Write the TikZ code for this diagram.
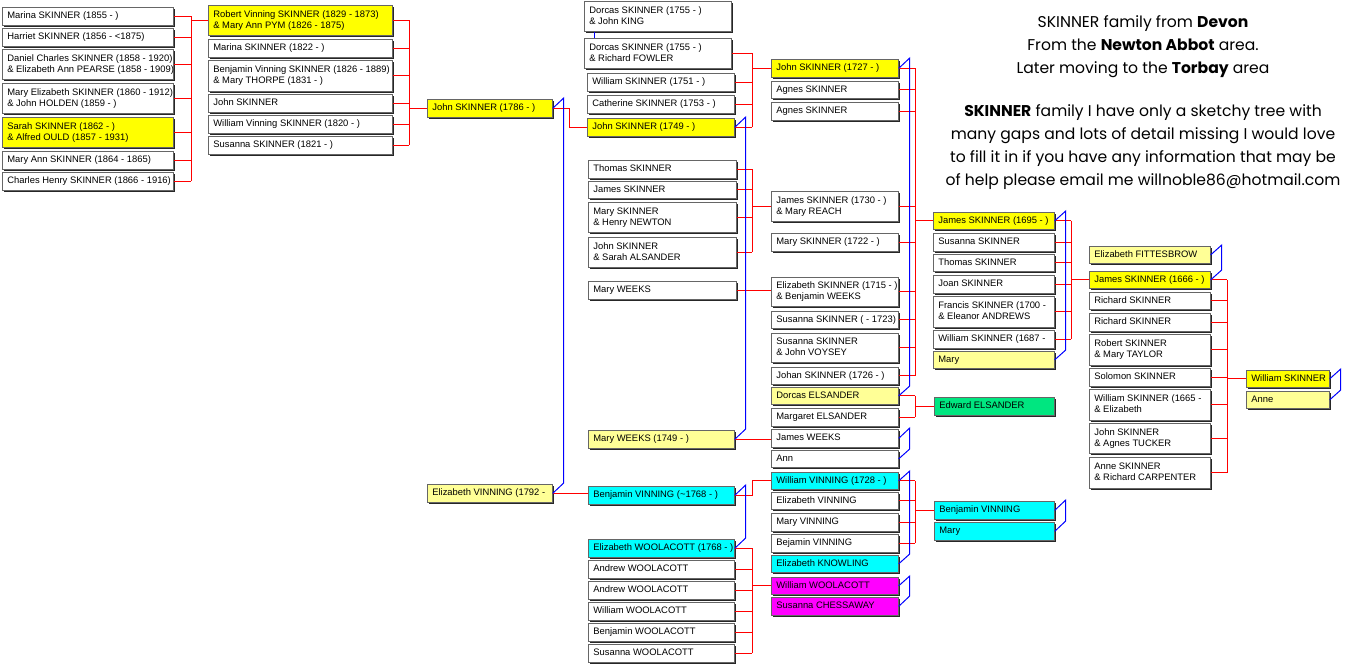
\documentclass[tikz,border=0pt]{standalone}
\usepackage{fontspec}
\setmainfont{Liberation Sans}
\newfontfamily\titlefont{Poppins}
\usetikzlibrary{calc,shadows}
\definecolor{yel}{RGB}{255,255,0}
\definecolor{lyel}{RGB}{255,255,150}
\definecolor{cyn}{RGB}{0,255,255}
\definecolor{mag}{RGB}{255,0,255}
\definecolor{grn}{RGB}{0,230,128}
\tikzset{
  pbox/.style={rectangle, draw=black!60, line width=0.7pt, inner xsep=5pt, inner ysep=1pt,
    anchor=north west, font=\fontsize{9.4}{11}\selectfont,
    drop shadow={shadow xshift=1.4pt, shadow yshift=-1.4pt, fill=black!85, opacity=1}},
  rl/.style={draw=red, line width=0.9pt},
  bl/.style={draw=blue, line width=1pt},
}
\newcommand\pb[7]{%
  \pgfmathsetmacro\tw{#4-10}%
  \node[pbox, fill=#6, minimum width=#4pt, minimum height=#5pt] (#1) at (#2,#3)
    {\makebox[\tw pt][l]{\begin{tabular}{@{}l@{}}#7\end{tabular}}};}
\newcommand\spouse[2]{\draw[bl] (#1.east) -- ($(#1.north east)+(11,-1)$) -- ($(#2.north east)+(11,-1)$) -- (#2.east);}
\begin{document}
\begin{tikzpicture}[x=1pt,y=-1pt]
\useasboundingbox (0,0) rectangle (1346,667);
% ---------- column 1
\pb{a1}{2}{7}{171}{18}{white}{Marina SKINNER (1855 - )}
\pb{a2}{2}{28}{171}{18}{white}{Harriet SKINNER (1856 - <1875)}
\pb{a3}{2}{49}{171}{30}{white}{Daniel Charles SKINNER (1858 - 1920)\\\& Elizabeth Ann PEARSE (1858 - 1909)}
\pb{a4}{2}{83}{171}{30}{white}{Mary Elizabeth SKINNER (1860 - 1912)\\\& John HOLDEN (1859 - )}
\pb{a5}{2}{117}{171}{30}{yel}{Sarah SKINNER (1862 - )\\\& Alfred OULD (1857 - 1931)}
\pb{a6}{2}{151}{171}{18}{white}{Mary Ann SKINNER (1864 - 1865)}
\pb{a7}{2}{172}{171}{18}{white}{Charles Henry SKINNER (1866 - 1916)}
% ---------- column 2
\pb{b1}{208}{5}{184}{30}{yel}{Robert Vinning SKINNER (1829 - 1873)\\\& Mary Ann PYM (1826 - 1875)}
\pb{b2}{208}{39}{184}{18}{white}{Marina SKINNER (1822 - )}
\pb{b3}{208}{60}{184}{31}{white}{Benjamin Vinning SKINNER (1826 - 1889)\\\& Mary THORPE (1831 - )}
\pb{b4}{208}{94}{184}{18}{white}{John SKINNER}
\pb{b5}{208}{115}{184}{18}{white}{William Vinning SKINNER (1820 - )}
\pb{b6}{208}{136}{184}{18}{white}{Susanna SKINNER (1821 - )}
% ---------- column 2b
\pb{jn86}{427}{99}{125}{18}{yel}{John SKINNER (1786 - )}
\pb{ev92}{427}{484}{125}{18}{lyel}{Elizabeth VINNING (1792 -}
% ---------- column 3
\pb{c1}{584}{1}{147}{30}{white}{Dorcas SKINNER (1755 - )\\\& John KING}
\pb{c2}{584}{38}{147}{30}{white}{Dorcas SKINNER (1755 - )\\\& Richard FOWLER}
\pb{c3}{587}{73}{147}{18}{white}{William SKINNER (1751 - )}
\pb{c4}{587}{95}{147}{18}{white}{Catherine SKINNER (1753 - )}
\pb{c5}{587}{118}{147}{18}{yel}{John SKINNER (1749 - )}
\pb{c6}{588}{160}{148}{18}{white}{Thomas SKINNER}
\pb{c7}{588}{181}{148}{17}{white}{James SKINNER}
\pb{c8}{588}{202}{148}{30}{white}{Mary SKINNER\\\& Henry NEWTON}
\pb{c9}{588}{237}{148}{30}{white}{John SKINNER\\\& Sarah ALSANDER}
\pb{c10}{588}{281}{148}{18}{white}{Mary WEEKS}
\pb{c11}{588}{430}{146}{18}{lyel}{Mary WEEKS (1749 - )}
\pb{c12}{588}{486}{146}{18}{cyn}{Benjamin VINNING (\textasciitilde1768 - )}
\pb{c13}{588}{539}{146}{18}{cyn}{Elizabeth WOOLACOTT (1768 - )}
\pb{c14}{588}{560}{146}{18}{white}{Andrew WOOLACOTT}
\pb{c15}{588}{581}{146}{18}{white}{Andrew WOOLACOTT}
\pb{c16}{588}{602}{146}{18}{white}{William WOOLACOTT}
\pb{c17}{588}{623}{146}{18}{white}{Benjamin WOOLACOTT}
\pb{c18}{588}{644}{146}{18}{white}{Susanna WOOLACOTT}
% ---------- column 4
\pb{d1}{771}{59}{127}{18}{yel}{John SKINNER (1727 - )}
\pb{d2}{771}{81}{127}{17}{white}{Agnes SKINNER}
\pb{d3}{771}{102}{127}{18}{white}{Agnes SKINNER}
\pb{d4}{771}{191}{127}{30}{white}{James SKINNER (1730 - )\\\& Mary REACH}
\pb{d5}{771}{233}{127}{18}{white}{Mary SKINNER (1722 - )}
\pb{d6}{771}{277}{127}{29}{white}{Elizabeth SKINNER (1715 - )\\\& Benjamin WEEKS}
\pb{d7}{771}{311}{127}{17}{white}{Susanna SKINNER ( - 1723)}
\pb{d8}{771}{333}{127}{29}{white}{Susanna SKINNER\\\& John VOYSEY}
\pb{d9}{771}{367}{127}{17}{white}{Johan SKINNER (1726 - )}
\pb{d10}{771}{387}{127}{17}{lyel}{Dorcas ELSANDER}
\pb{d11}{771}{408}{127}{18}{white}{Margaret ELSANDER}
\pb{d12}{771}{429}{127}{18}{white}{James WEEKS}
\pb{d13}{771}{450}{127}{17}{white}{Ann}
\pb{d14}{771}{472}{127}{17}{cyn}{William VINNING (1728 - )}
\pb{d15}{771}{492}{127}{17}{white}{Elizabeth VINNING}
\pb{d16}{771}{513}{127}{18}{white}{Mary VINNING}
\pb{d17}{771}{534}{127}{18}{white}{Bejamin VINNING}
\pb{d18}{771}{555}{127}{17}{cyn}{Elizabeth KNOWLING}
\pb{d19}{771}{577}{127}{17}{mag}{William WOOLACOTT}
\pb{d20}{771}{597}{127}{18}{mag}{Susanna CHESSAWAY}
% ---------- column 5
\pb{e1}{933}{212}{121}{17}{yel}{James SKINNER (1695 - )}
\pb{e2}{933}{233}{121}{18}{white}{Susanna SKINNER}
\pb{e3}{933}{254}{121}{17}{white}{Thomas SKINNER}
\pb{e4}{933}{275}{121}{18}{white}{Joan SKINNER}
\pb{e5}{933}{296}{121}{31}{white}{Francis SKINNER (1700 -\\\& Eleanor ANDREWS}
\pb{e6}{933}{330}{121}{18}{white}{William SKINNER (1687 -}
\pb{e7}{933}{351}{121}{17}{lyel}{Mary}
\pb{e8}{934}{397}{120}{18}{grn}{Edward ELSANDER}
\pb{e9}{934}{501}{120}{18}{cyn}{Benjamin VINNING}
\pb{e10}{934}{522}{120}{18}{cyn}{Mary}
% ---------- column 6
\pb{f1}{1089}{246}{121}{17}{lyel}{Elizabeth FITTESBROW}
\pb{f2}{1089}{271}{121}{17}{yel}{James SKINNER (1666 - )}
\pb{f3}{1089}{292}{121}{17}{white}{Richard SKINNER}
\pb{f4}{1089}{313}{121}{18}{white}{Richard SKINNER}
\pb{f5}{1089}{334}{121}{31}{white}{Robert SKINNER\\\& Mary TAYLOR}
\pb{f6}{1089}{368}{121}{18}{white}{Solomon SKINNER}
\pb{f7}{1089}{389}{121}{31}{white}{William SKINNER (1665 -\\\& Elizabeth}
\pb{f8}{1089}{423}{121}{30}{white}{John SKINNER\\\& Agnes TUCKER}
\pb{f9}{1089}{457}{121}{31}{white}{Anne SKINNER\\\& Richard CARPENTER}
% ---------- column 7
\pb{g1}{1246}{370}{83}{17}{yel}{William SKINNER}
\pb{g2}{1246}{391}{83}{17}{lyel}{Anne}
% ---------- bus coordinates
\coordinate (B1) at (191,0);
\coordinate (B2) at (409,0);
\coordinate (B3) at (752,0);
\coordinate (B4) at (915,0);
\coordinate (B5) at (1071,0);
\coordinate (B6) at (1227,0);
% col 1 -> Robert
\foreach \n in {a1,a2,a3,a4,a5,a6,a7} \draw[rl] (\n.east) -- (\n.east -| B1);
\draw[rl] (a1.east -| B1) -- (a7.east -| B1);
\draw[rl] (b1.west) -- (b1.west -| B1);
% col 2 -> John 1786
\foreach \n in {b1,b2,b3,b4,b5,b6} \draw[rl] (\n.east) -- (\n.east -| B2);
\draw[rl] (b1.east -| B2) -- (b6.east -| B2);
\draw[rl] (jn86.west) -- (jn86.west -| B2);
% John 1786 -> John 1749 ; Elizabeth VINNING -> Benjamin
\draw[rl] (jn86.east) -- ++(17,0) |- (c5.west);
\draw[rl] (ev92.east) -- (ev92.east -| c12.west);
\spouse{jn86}{ev92}
% col 3 groups
\foreach \n in {c2,c3,c4,c5} \draw[rl] (\n.east) -- (\n.east -| B3);
\draw[rl] (c2.east -| B3) -- (c5.east -| B3);
\draw[rl] (d1.west) -- (d1.west -| B3);
\foreach \n in {c6,c7,c8,c9} \draw[rl] (\n.east) -- (\n.east -| B3);
\draw[rl] (c6.east -| B3) -- (c9.east -| B3);
\draw[rl] (d4.west) -- (d4.west -| B3);
\draw[rl] (c10.east) -- (c10.east -| d6.west);
\draw[rl] (c11.east) -- (c11.east -| d12.west);
\draw[rl] (c12.east) -- ++(18,0) |- (d14.west);
\foreach \n in {c13,c14,c15,c16,c17,c18} \draw[rl] (\n.east) -- (\n.east -| B3);
\draw[rl] (c13.east -| B3) -- (c18.east -| B3);
\draw[rl] (d19.west) -- (d19.west -| B3);
\draw[bl] ($(c1.south west)+(10,0)$) -- ($(c2.north west)+(10,0)$);
\spouse{c5}{c11}
\spouse{c12}{c13}
% col 4 groups
\foreach \n in {d1,d2,d3,d4,d5,d6,d7,d8,d9} \draw[rl] (\n.east) -- (\n.east -| B4);
\draw[rl] (d1.east -| B4) -- (d9.east -| B4);
\draw[rl] (e1.west) -- (e1.west -| B4);
\foreach \n in {d10,d11} \draw[rl] (\n.east) -- (\n.east -| B4);
\draw[rl] (d10.east -| B4) -- (d11.east -| B4);
\draw[rl] (e8.west) -- (e8.west -| B4);
\foreach \n in {d14,d15,d16,d17} \draw[rl] (\n.east) -- (\n.east -| B4);
\draw[rl] (d14.east -| B4) -- (d17.east -| B4);
\draw[rl] (e9.west) -- (e9.west -| B4);
\spouse{d1}{d10}
\spouse{d12}{d13}
\spouse{d14}{d18}
\spouse{d19}{d20}
% col 5 groups
\foreach \n in {e1,e2,e3,e4,e5,e6} \draw[rl] (\n.east) -- (\n.east -| B5);
\draw[rl] (e1.east -| B5) -- (e6.east -| B5);
\draw[rl] (f2.west) -- (f2.west -| B5);
\spouse{e1}{e7}
\spouse{e9}{e10}
% col 6 group
\foreach \n in {f2,f3,f4,f5,f6,f7,f8,f9} \draw[rl] (\n.east) -- (\n.east -| B6);
\draw[rl] (f2.east -| B6) -- (f9.east -| B6);
\draw[rl] (g1.west) -- (g1.west -| B6);
\spouse{f1}{f2}
\spouse{g1}{g2}
% ---------- title text
\node[font=\titlefont\fontsize{15.6}{23}\selectfont, align=center] (title) at (1143,103)
 {SKINNER family from \textbf{Devon}\\
  From the \textbf{Newton Abbot} area.\\
  Later moving to the \textbf{Torbay} area\\[20pt]
  \textbf{SKINNER} family I have only a sketchy tree with\\
  many gaps and lots of detail missing I would love\\
  to fill it in if you have any information that may be\\
  of help please email me willnoble86@hotmail.com};
\end{tikzpicture}
\end{document}
